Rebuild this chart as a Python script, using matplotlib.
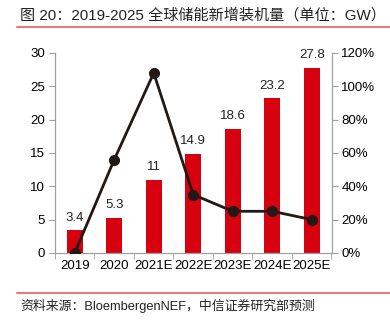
import matplotlib.pyplot as plt
import numpy as np

plt.rcParams['font.family'] = ['Liberation Sans', 'Noto Sans CJK SC', 'DejaVu Sans']

# --- data ---
years = ['2019', '2020', '2021E', '2022E', '2023E', '2024E', '2025E']
capacity = [3.4, 5.3, 11, 14.9, 18.6, 23.2, 27.8]      # GW
growth = [0, 56, 108, 35, 25, 25, 20]                   # %
cap_labels = ['3.4', '5.3', '11', '14.9', '18.6', '23.2', '27.8']

red = '#D7000F'
dark = '#231815'
gray = '#A0A0A0'

fig = plt.figure(figsize=(3.9, 3.21), dpi=100)
ax = fig.add_axes([0.141, 0.212, 0.709, 0.623])
x = np.arange(len(years))

ax.bar(x, capacity, width=0.4, color=red, zorder=2)
for xi, v, t in zip(x, capacity, cap_labels):
    ax.text(xi, v + 1.0, t, ha='center', va='bottom', fontsize=9.5, color='#222222')

ax.set_ylim(0, 30)
ax.set_yticks(range(0, 31, 5))
ax.set_xlim(-0.5, 6.5)
ax.set_xticks(x)
ax.set_xticklabels(years)
ax.set_xticks(np.arange(-0.5, 7, 1), minor=True)
ax.tick_params(axis='x', which='major', length=0, pad=5, labelsize=9.5)
ax.tick_params(axis='x', which='minor', length=4, color=gray)
ax.tick_params(axis='y', length=4, color=gray, labelsize=9.5, pad=3)

ax2 = ax.twinx()
ax2.plot(x, growth, color=dark, lw=2, marker='o', ms=7, zorder=3)
ax2.set_ylim(0, 120)
ax2.set_yticks(range(0, 121, 20))
ax2.set_yticklabels([f'{v}%' for v in range(0, 121, 20)])
ax2.tick_params(axis='y', length=4, color=gray, labelsize=9.5, pad=3)

for a in (ax, ax2):
    a.spines['top'].set_visible(False)
    for s in ('left', 'right', 'bottom'):
        a.spines[s].set_color(gray)
        a.spines[s].set_linewidth(0.8)

# title and source with red rules
fig.text(0.051, 0.953, '图 20：2019-2025 全球储能新增装机量（单位：GW）',
         fontsize=10.9, va='center', ha='left', color='#222222')
fig.add_artist(plt.Line2D([0.044, 1.0], [0.916, 0.916], color='#E06060', lw=1.2))
fig.add_artist(plt.Line2D([0.044, 1.0], [0.088, 0.088], color='#E06060', lw=1.2))
fig.text(0.051, 0.047, '资料来源：BloembergenNEF，中信证券研究部预测',
         fontsize=9.3, va='center', ha='left', color='#222222')

fig.savefig('out.png', dpi=100)
